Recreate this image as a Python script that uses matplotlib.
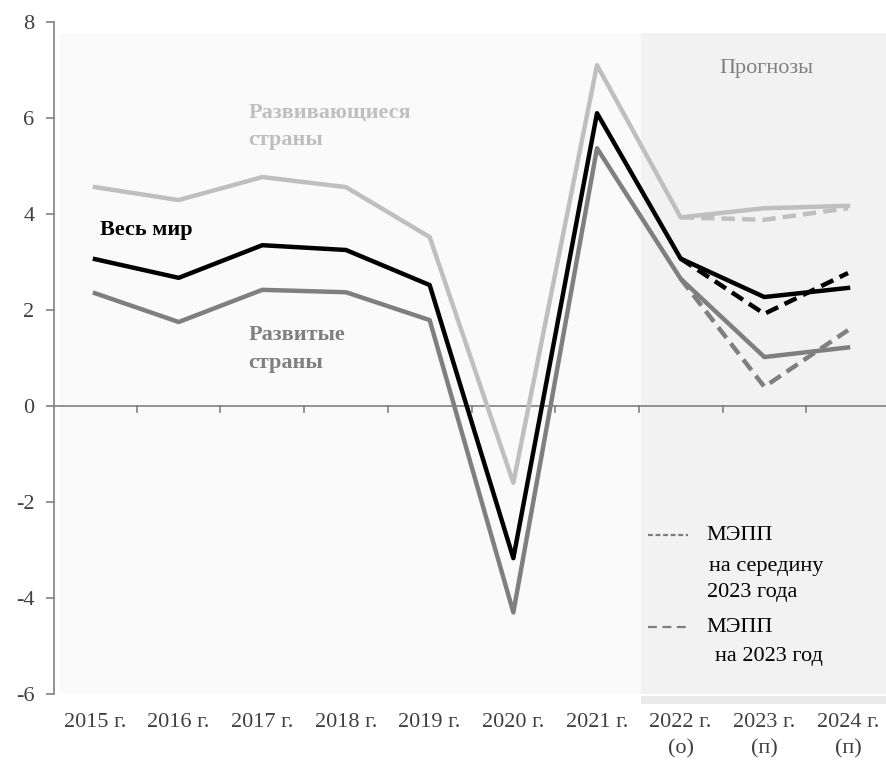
import matplotlib.pyplot as plt
from matplotlib.patches import Rectangle

plt.rcParams["font.family"] = ["Liberation Serif", "DejaVu Serif"]
plt.rcParams["axes.unicode_minus"] = False

years = ["2015 г.", "2016 г.", "2017 г.", "2018 г.", "2019 г.", "2020 г.", "2021 г.",
         "2022 г.\n(о)", "2023 г.\n(п)", "2024 г.\n(п)"]
world = [3.06, 2.67, 3.35, 3.25, 2.52, -3.17, 6.10, 3.07, 2.27, 2.46]
developing = [4.56, 4.29, 4.77, 4.56, 3.52, -1.60, 7.10, 3.93, 4.12, 4.17]
developed = [2.35, 1.75, 2.42, 2.37, 1.79, -4.30, 5.37, 2.65, 1.02, 1.22]
# earlier forecast (dashed), 2022-2024
fc_idx = [7, 8, 9]
world_prev = [3.07, 1.92, 2.77]
developing_prev = [3.93, 3.88, 4.12]
developed_prev = [2.65, 0.40, 1.58]

LIGHT, MID, INK, TXT = "#bfbfbf", "#7f7f7f", "#000000", "#404040"
FS = 16

fig = plt.figure(figsize=(8.87, 7.62), dpi=100)
ax = fig.add_axes([54 / 887, 68 / 762, 833 / 887, 672 / 762])
x = list(range(len(years)))
ax.set_xlim(-0.49, 9.466)
ax.set_ylim(-6, 8)

# backgrounds
ax.add_patch(Rectangle((-0.42, -6.05), 10, 13.82, facecolor="#fafafa", edgecolor="none", zorder=0))
ax.add_patch(Rectangle((6.526, -6.05), 4, 13.82, facecolor="#f2f2f2", edgecolor="none", zorder=0))
ax.add_patch(Rectangle((6.526, -6.21), 4, 0.16, facecolor="#eaeaea", edgecolor="none", zorder=0,
                       clip_on=False))

ax.axhline(0, color="#808080", lw=1.2, zorder=1)
for b in range(len(years) + 1):
    ax.plot([b - 0.5, b - 0.5], [0, -0.12], color="#808080", lw=1.2, zorder=1)

ax.plot(x, developing, color=LIGHT, lw=3.2, zorder=3)
ax.plot(x, developed, color=MID, lw=3.2, zorder=3)
ax.plot(x, world, color=INK, lw=3.2, zorder=4)
ax.plot(fc_idx, developing_prev, color=LIGHT, lw=3.2, dashes=(3, 1.6), zorder=3)
ax.plot(fc_idx, developed_prev, color=MID, lw=3.2, dashes=(3, 1.6), zorder=3)
ax.plot(fc_idx, world_prev, color=INK, lw=3.2, dashes=(3, 1.6), zorder=4)

# series labels
ax.text(1.83, 6.33, "Развивающиеся\nстраны", color=LIGHT, fontsize=FS, weight="bold",
        va="top", linespacing=1.5)
ax.text(0.06, 3.67, "Весь мир", color=INK, fontsize=FS, weight="bold", va="center")
ax.text(1.83, 1.68, "Развитые\nстраны", color=MID, fontsize=FS, weight="bold",
        va="top", linespacing=1.5)
ax.text(8.03, 7.04, "Прогнозы", color="#808080", fontsize=FS, ha="center", va="center")

# legend
tr = ax.transAxes
def ax_x(px):
    return (px - 54) / 833
def ax_y(py):
    return (694 - py) / 672
ax.plot([ax_x(648), ax_x(688)], [ax_y(535)] * 2, transform=tr, color=MID, lw=1.6,
        dashes=(2.2, 1.2), clip_on=False)
ax.plot([ax_x(648), ax_x(688)], [ax_y(627)] * 2, transform=tr, color=MID, lw=1.6,
        dashes=(4, 2.5), clip_on=False)
ax.text(ax_x(706), ax_y(535), "МЭПП", transform=tr, fontsize=FS, va="center")
ax.text(ax_x(709), ax_y(566), "на середину", transform=tr, fontsize=FS, va="center")
ax.text(ax_x(707), ax_y(593), "2023 года", transform=tr, fontsize=FS, va="center")
ax.text(ax_x(706), ax_y(627), "МЭПП", transform=tr, fontsize=FS, va="center")
ax.text(ax_x(715), ax_y(656), "на 2023 год", transform=tr, fontsize=FS, va="center")

# axes styling
for s in ["top", "right", "bottom"]:
    ax.spines[s].set_visible(False)
ax.spines["left"].set_color("#808080")
ax.spines["left"].set_linewidth(1.2)
ax.set_yticks(range(-6, 9, 2))
ax.tick_params(axis="y", colors="#808080", length=6, width=1.2, labelcolor=TXT, labelsize=FS, pad=8)
ax.set_xticks(x)
ax.set_xticklabels(years, fontsize=FS, color=TXT, linespacing=1.5)
ax.tick_params(axis="x", length=0, pad=14)

fig.savefig("out.png", dpi=100, facecolor="white")
